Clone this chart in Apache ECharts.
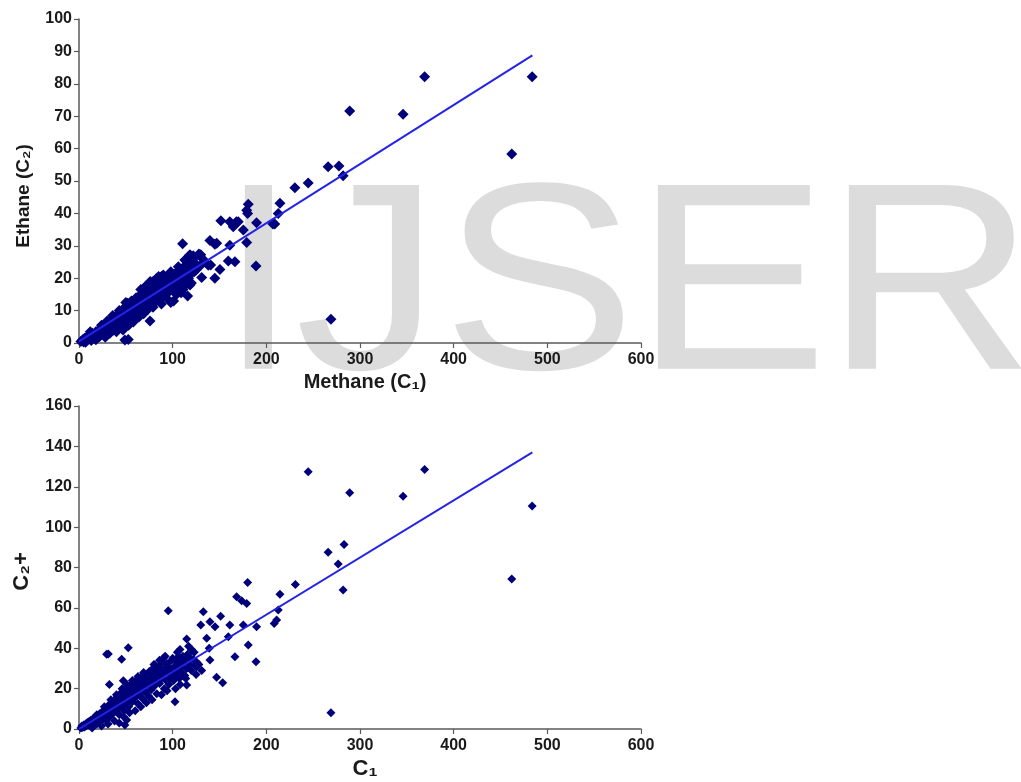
<!DOCTYPE html>
<html>
<head>
<meta charset="utf-8">
<script src="https://cdn.jsdelivr.net/npm/echarts@6/dist/echarts.min.js"></script>
<style>
  html, body { margin: 0; padding: 0; background: #fff; }
  #chart { width: 1021px; height: 782px; }
</style>
</head>
<body>
<div id="chart"></div>
<script>
// Ethane (C2) vs Methane (C1)
var ethaneData = [
  [2,0.5],[4,1],[5,0.3],[6,1.5],[8,1],[9,2],[10,1.2],[11,2.5],[12,1.8],[13,0.8],
  [14,3],[15,2],[16,2.8],[17,1.5],[18,3.5],[19,2.5],[20,3],[21,4],[22,2],[23,4.5],
  [24,3.2],[25,5],[26,3.8],[27,2.6],[28,5.5],[29,4.2],[30,6.8],[31,5],[32,3.5],[33,6],
  [34,4.8],[35,7.5],[36,6],[37,4],[38,7],[39,5.5],[40,8.2],[41,6.5],[42,9],[43,7.2],
  [44,5],[45,8],[46,10],[47,6.8],[48,8.8],[49,11],[49,0.9],[50,9.5],[51,7.5],[52,12.3],
  [52.6,1.1],[53,10],[54,8.5],[55,11.5],[56,9],[57,12.8],[58,10.5],[59,7.8],[60,13],[61,11],
  [62,9.5],[63,14],[64,12],[65,10],[66,15],[67,12.8],[68,11],[69,16],[70,13.5],[71,17.5],
  [72,11.8],[73,15],[74,18],[75,13],[75.8,6.8],[77,16.5],[78,14],[79,19],[80,15.5],[81,12.5],
  [82,17.5],[83,20],[84,14.5],[85,16.5],[86,18.5],[87,13.5],[88,20.5],[89,16],[90,18],[91,14.8],
  [92,20],[93,17],[94,19],[95,15.5],[96,21],[97,17.5],[98,12.5],[99,19.5],[100,16.5],[102,18.5],
  [103,21.5],[104,15],[105,19.5],[106,17],[107,22.5],[108,20],[109,18],[110,21],[111,16.5],[112,23.5],
  [113,19.5],[114,25.5],[115,22],[116,14.5],[117,20],[118,27],[119,23.5],[120,21.5],[122,26],[124,24.5],
  [125,22.5],[128,27.5],[130,24],[118.5,17.9],[110.6,30.6],[113,25.6],[118.5,27.2],[122,25.1],[130,27.2],
  [122,26.9],[132.7,25.8],[131,20.2],[138,24],[140.5,24.1],[139.8,31.6],[145,30.5],[147,30.8],[145,20],
  [150.5,22.7],[151.5,37.7],[159.4,25.3],[161,30.2],[161,37.4],[164.7,35.9],[166.5,25.1],[168,37.4],
  [170,37.4],[175.4,34.9],[179,31],[179,41],[180,40],[180.7,42.8],[189.6,37.1],[189,23.8],
  [207,36.7],[209,36.7],[212.7,40],[214.5,43.1],[230.5,47.9],[244.7,49.4],[266,54.4],[277.5,54.6],
  [282,51.6],[269,7.3],[289,71.6],[346,70.6],[369,82.2],[462,58.3],[483.8,82.2],
  [7,0.2],[12,3.5],[18,1],[24,5.5],[28,1.8],[33,3],[36,8.5],[40,3.5],[43,10],[47,4],
  [50,12.5],[53,5.5],[56,13],[58,6.5],[61,14],[64,8],[66,16.5],[69,9],[72,17.5],[74,10.5],
  [76,19],[79,11],[82,13.5],[85,20.5],[88,12],[90,21],[93,14],[95,20.5],[98,22],[101,13],
  [103,19],[106,23.5],[109,15.5],[112,20.5],[114,18],[117,24],[120,18.5],[123,22]
];
var ethaneFit = [[0,0.5],[484,88.8]];
var ethaneR = 'r = 0.95';

// C2+ vs C1
var c2plusData = [
  [2,0.5],[3,1.5],[4,0.8],[5,2],[6,1],[7,2.5],[8,1.6],[9,3.2],[10,2],[11,3.8],
  [12,2.6],[13,4.5],[14,1.8],[15,5],[16,3.5],[17,6],[18,4.2],[19,2.5],[20,6.5],[21,5],
  [22,7.5],[23,3.5],[24,6.2],[25,8.5],[26,5.2],[27,9.5],[28,7],[29,4.5],[30,10.5],[31,8],
  [32,12],[33,6],[34,9.5],[35,13],[36,7.5],[37,11],[38,14.5],[39,9],[40,12.5],[41,16],
  [42,10],[43,7],[44,14],[45,18],[46,11.5],[47,15.5],[48,9],[49,19.5],[50,13],[51,17],
  [52,21],[53,11],[54,15],[55,19],[56,22.5],[57,13.5],[58,17.5],[59,21],[60,15.5],[61,24],
  [62,19],[63,12.5],[64,22],[65,17],[66,25.5],[67,20.5],[68,15],[69,23],[70,27],[71,18.5],
  [72,21.5],[73,25],[74,16.5],[75,28.5],[76,23],[77,19.5],[78,26],[79,30],[80,21],[81,24.5],
  [82,28],[83,17.5],[84,26],[85,31],[86,22.5],[87,29],[88,25],[89,33],[90,27.5],[91,20],
  [92,30],[93,24],[94,32.5],[95,28],[96,22],[97,30.5],[98,26.5],[99,34],[100,29],[101,24],
  [102,31],[103,27],[105,33],[106,29.5],[107,25],[108,35],[109,31],[110,28],[112,33],[113,26.5],
  [115,30],[116,37],[118,32],[120,29],[122,34.5],[124,31.5],[126,33],
  [29.5,37],[31.3,37.1],[32.4,22.1],[45.5,34.5],[47.3,23.9],[52.6,40.3],[49,2],[50.9,4.5],
  [81,31.7],[84.6,27.6],[90,35],[95.3,58.6],[102.5,13.5],[106,35.8],[107.8,39.4],[113,34.2],
  [115,44.6],[115,21.8],[120.2,39.4],[125.6,30.8],[130,51.5],[132.7,58.1],[136.3,44.9],[139,40],
  [139.8,34.2],[139.8,53.1],[145.2,50.6],[146.9,25.6],[151.2,55.9],[153.4,22.9],[159.4,45.7],[161,51.5],
  [166.5,35.8],[168.3,65.5],[173.6,63.5],[175.4,51.5],[179,62.2],[180,72.6],[180.7,41.6],[189,33.3],
  [189.6,50.6],[208.4,52.3],[211,54],[212.7,58.9],[214.5,66.8],[231,71.6],[244.7,127.4],[266,87.5],
  [269,8.1],[276.7,81.7],[282,68.8],[283,91.4],[289,117],[346,115.3],[369,128.6],[462,74.3],[483.8,110.5],
  [14,0.5],[19,7],[24,1.5],[27,11],[31,2.5],[34,14.5],[38,4],[40,17],[43,3],[46,20],
  [48,6],[51,22],[54,8],[57,24],[60,9],[63,26],[66,11],[69,28],[72,13],[75,22],
  [78,14.5],[80,32],[83,23],[86,34],[88,17],[92,36],[94,19],[97,25],[100,35],[103,20],
  [105,38],[108,22],[111,36],[114,25],[117,41],[119,35],[123,38],[125,27],[128,32],[131,29]
];
var c2plusFit = [[0,0],[484,137]];
var c2plusR = 'r = 0.9';

var FONT = '"Liberation Sans", Arial, "DejaVu Sans", sans-serif';
var dotColor = '#00007a';
var lineColor = '#2424e6';

function xAxisOpt(gridIndex, name, nameSize) {
  return {
    type: 'value', gridIndex: gridIndex, min: 0, max: 600, interval: 100,
    name: name, nameLocation: 'middle', nameGap: 29,
    nameTextStyle: { fontFamily: FONT, fontWeight: 'bold', fontSize: nameSize, color: '#1a1a1a',
      padding: [0, 0, 0, 10] },
    splitLine: { show: false },
    axisLine: { lineStyle: { color: '#5a5a5a', width: 1.5 } },
    axisTick: { length: 5, lineStyle: { color: '#5a5a5a', width: 1.2 } },
    axisLabel: { margin: 9, fontFamily: FONT, fontWeight: 'bold', fontSize: 16, color: '#1a1a1a' }
  };
}
function yAxisOpt(gridIndex, max, interval, name, nameSize, shift) {
  return {
    type: 'value', gridIndex: gridIndex, min: 0, max: max, interval: interval,
    name: name, nameLocation: 'middle', nameGap: 46, nameRotate: 90,
    nameTextStyle: { fontFamily: FONT, fontWeight: 'bold', fontSize: nameSize, color: '#1a1a1a',
      padding: [0, shift, 0, 0] },
    splitLine: { show: false },
    axisLine: { lineStyle: { color: '#5a5a5a', width: 1.5 } },
    axisTick: { length: 5, lineStyle: { color: '#5a5a5a', width: 1.2 } },
    axisLabel: { margin: 7, fontFamily: FONT, fontWeight: 'bold', fontSize: 16, color: '#1a1a1a' }
  };
}
function fitData(fit, text) {
  return [
    { value: fit[0] },
    { value: fit[1], label: { show: true, formatter: text, position: 'right', offset: [4, -16],
      fontFamily: FONT, fontWeight: 'bold', fontSize: 13, color: '#1a1a1a' } }
  ];
}

// watermark letters, placed one by one
var wmLetters = [['I', 218], ['J', 295], ['S', 442], ['E', 634], ['R', 825]];
var watermark = wmLetters.map(function (l) {
  return {
    type: 'text', z: -10, silent: true, x: l[1], y: 295, scaleX: 1.09,
    style: { text: l[0], x: 0, y: 0, verticalAlign: 'middle',
      font: '267px "Liberation Sans", Arial, sans-serif', fill: '#dcdcdc' }
  };
});

var chart = echarts.init(document.getElementById('chart'), null, { renderer: 'canvas' });
chart.setOption({
  animation: false,
  backgroundColor: '#ffffff',
  graphic: watermark,
  grid: [
    { left: 79, right: 380, top: 19, bottom: 439 },
    { left: 79, right: 380, top: 406, bottom: 53 }
  ],
  xAxis: [
    xAxisOpt(0, 'Methane (C\u2081)', 20),
    xAxisOpt(1, 'C\u2081', 22)
  ],
  yAxis: [
    yAxisOpt(0, 100, 10, 'Ethane (C\u2082)', 19, 30),
    yAxisOpt(1, 160, 20, 'C\u2082+', 22, 8)
  ],
  series: [
    { type: 'scatter', xAxisIndex: 0, yAxisIndex: 0, data: ethaneData,
      symbol: 'diamond', symbolSize: 11, itemStyle: { color: dotColor, opacity: 1 } },
    { type: 'line', xAxisIndex: 0, yAxisIndex: 0, data: fitData(ethaneFit, ethaneR),
      symbol: 'none', z: 3, lineStyle: { color: lineColor, width: 2 } },
    { type: 'scatter', xAxisIndex: 1, yAxisIndex: 1, data: c2plusData,
      symbol: 'diamond', symbolSize: 9, itemStyle: { color: dotColor, opacity: 1 } },
    { type: 'line', xAxisIndex: 1, yAxisIndex: 1, data: fitData(c2plusFit, c2plusR),
      symbol: 'none', z: 3, lineStyle: { color: lineColor, width: 2 } }
  ]
});
</script>
</body>
</html>
